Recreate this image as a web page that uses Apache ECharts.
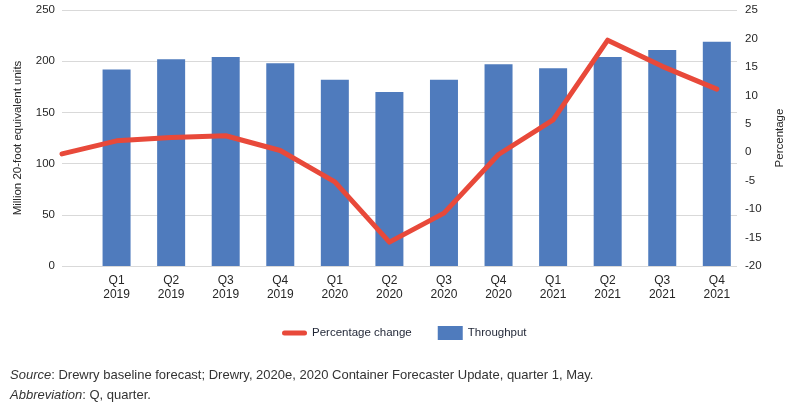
<!DOCTYPE html>
<html>
<head>
<meta charset="utf-8">
<script src="https://cdn.jsdelivr.net/npm/echarts@6/dist/echarts.min.js"></script>
<style>
  html, body { margin: 0; padding: 0; background: #fff; }
  #chart { width: 794px; height: 410px; }
</style>
</head>
<body>
<div id="chart"></div>
<script>
// categories: first slot is the empty lead-in point of the line
const quarters = ['', 'Q1\n2019', 'Q2\n2019', 'Q3\n2019', 'Q4\n2019',
  'Q1\n2020', 'Q2\n2020', 'Q3\n2020', 'Q4\n2020',
  'Q1\n2021', 'Q2\n2021', 'Q3\n2021', 'Q4\n2021'];
// million TEU
const throughput = [null, 192, 202, 204, 198, 182, 170, 182, 197, 193, 204, 211, 219];
// percentage change
const pctChange = [-0.3, 2.0, 2.6, 2.9, 0.3, -5.2, -15.8, -10.7, -0.4, 5.7, 19.7, 15.1, 11.1];

const FONT = '"Liberation Sans", Arial, sans-serif';
const TXT = '#262626';

const chart = echarts.init(document.getElementById('chart'), null, { renderer: 'canvas' });

const barData = [];
throughput.forEach((v, i) => { if (v !== null) barData.push([i, v]); });
const lineData = pctChange.map((v, i) => [i, v]);

chart.setOption({
  animation: false,
  textStyle: { fontFamily: FONT },
  grid: { left: 62, right: 56, top: 10, bottom: 144 },
  legend: {
    left: 277, top: 321,
    itemGap: 26,
    itemWidth: 25, itemHeight: 14,
    textStyle: { fontFamily: FONT, fontSize: 11.5, color: '#1f2535' },
    data: [
      { name: 'Percentage change', icon: 'path://M2.5,0 H22.5 A2.5,2.5 0 0 1 22.5,5 H2.5 A2.5,2.5 0 0 1 2.5,0 Z' },
      { name: 'Throughput', icon: 'rect' }
    ]
  },
  xAxis: {
    type: 'value',
    min: 0, max: 12.37, interval: 1,
    splitLine: { show: false },
    axisTick: { show: false },
    axisLine: { show: false },
    axisLabel: {
      fontFamily: FONT, fontSize: 12, color: TXT, lineHeight: 14, margin: 8,
      showMaxLabel: false,
      formatter: v => (Number.isInteger(v) ? quarters[v] : '')
    }
  },
  yAxis: [
    {
      type: 'value', min: 0, max: 250, interval: 50,
      name: 'Million 20-foot equivalent units',
      nameLocation: 'middle', nameGap: 38, nameRotate: 90,
      nameTextStyle: { fontFamily: FONT, fontSize: 11.5, color: TXT },
      axisLine: { show: false }, axisTick: { show: false },
      axisLabel: { fontFamily: FONT, fontSize: 11.5, color: TXT, margin: 7 },
      splitLine: { lineStyle: { color: '#d9d9d9', width: 1.2 } }
    },
    {
      type: 'value', min: -20, max: 25, interval: 5,
      name: 'Percentage',
      nameLocation: 'middle', nameGap: 37, nameRotate: 90,
      nameTextStyle: { fontFamily: FONT, fontSize: 11.5, color: TXT },
      axisLine: { show: false }, axisTick: { show: false },
      axisLabel: { fontFamily: FONT, fontSize: 11.5, color: TXT, margin: 8 },
      splitLine: { show: false }
    }
  ],
  series: [
    {
      name: 'Throughput',
      type: 'bar',
      yAxisIndex: 0,
      barWidth: 28,
      itemStyle: { color: '#4f7bbd' },
      data: barData
    },
    {
      name: 'Percentage change',
      type: 'line',
      yAxisIndex: 1,
      symbol: 'none',
      lineStyle: { color: '#e8493a', width: 5, cap: 'round', join: 'round' },
      itemStyle: { color: '#e8493a' },
      data: lineData,
      z: 5
    }
  ],
  graphic: [
    {
      type: 'text', left: 10, top: 369,
      style: {
        text: '{i|Source}: Drewry baseline forecast; Drewry, 2020e, 2020 Container Forecaster Update, quarter 1, May.',
        font: '13px "Liberation Sans", Arial, sans-serif',
        fill: '#333',
        rich: { i: { fontStyle: 'italic', fontSize: 13, fontFamily: '"Liberation Sans", Arial, sans-serif', fill: '#333' } }
      }
    },
    {
      type: 'text', left: 10, top: 389,
      style: {
        text: '{i|Abbreviation}: Q, quarter.',
        font: '13px "Liberation Sans", Arial, sans-serif',
        fill: '#333',
        rich: { i: { fontStyle: 'italic', fontSize: 13, fontFamily: '"Liberation Sans", Arial, sans-serif', fill: '#333' } }
      }
    }
  ]
});
</script>
</body>
</html>
